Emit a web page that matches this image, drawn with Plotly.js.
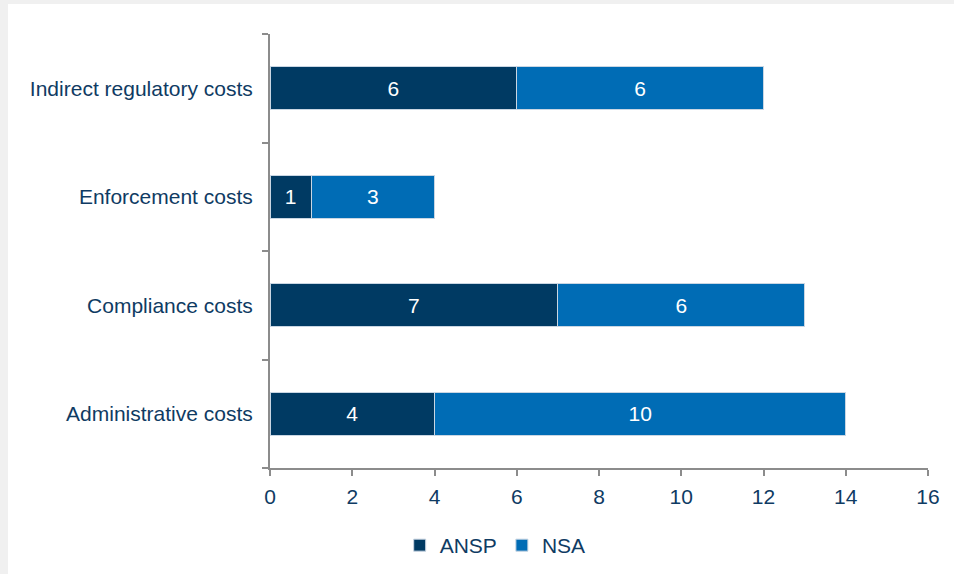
<!DOCTYPE html>
<html>
<head>
<meta charset="utf-8">
<script src="https://cdn.plot.ly/plotly-3.0.1.min.js"></script>
<style>
html,body{margin:0;padding:0;background:#f0f0f0;width:954px;height:574px;overflow:hidden;}
#chart{position:absolute;left:8px;top:4px;width:946px;height:570px;background:#fff;}
</style>
</head>
<body>
<div id="chart"></div>
<script>
const categories = ["Administrative costs", "Compliance costs", "Enforcement costs", "Indirect regulatory costs"];
const ansp = [4, 7, 1, 6];
const nsa = [10, 6, 3, 6];
const xTicks = [0, 2, 4, 6, 8, 10, 12, 14, 16];

const txt = '#0f3b63';
const font = {family: 'Liberation Sans, Arial, sans-serif', size: 21, color: txt};

const traces = [
  {type: 'bar', orientation: 'h', name: 'ANSP', y: categories, x: ansp,
   marker: {color: '#003a63', line: {color: '#c9d6e3', width: 1}},
   text: ansp.map(String), textposition: 'inside', insidetextanchor: 'middle',
   textfont: {family: font.family, size: 21, color: '#ffffff'}, hoverinfo: 'x+name'},
  {type: 'bar', orientation: 'h', name: 'NSA', y: categories, x: nsa,
   marker: {color: '#006cb5', line: {color: '#c9d6e3', width: 1}},
   text: nsa.map(String), textposition: 'inside', insidetextanchor: 'middle',
   textfont: {family: font.family, size: 21, color: '#ffffff'}, hoverinfo: 'x+name'}
];

const layout = {
  width: 946, height: 570,
  paper_bgcolor: '#ffffff', plot_bgcolor: '#ffffff',
  font: font,
  barmode: 'stack', bargap: 0.6,
  margin: {l: 262, r: 26, t: 30, b: 106},
  showlegend: true,
  legend: {orientation: 'h', xref: 'container', yref: 'container', x: 0.515, y: 0.05,
           xanchor: 'center', yanchor: 'middle', font: font, traceorder: 'normal',
           itemwidth: 30},
  xaxis: {range: [0, 16], tickvals: xTicks, ticktext: xTicks.map(String),
          showgrid: false, zeroline: false, showline: true, linecolor: '#8c8c8c', linewidth: 2,
          ticks: 'outside', ticklen: 6, tickcolor: '#8c8c8c', tickwidth: 2, tickfont: font,
          ticklabelstandoff: 3},
  yaxis: {type: 'category', showgrid: false, zeroline: false, showline: true,
          linecolor: '#8c8c8c', linewidth: 2, ticks: 'outside', tickson: 'boundaries',
          ticklen: 6, tickcolor: '#8c8c8c', tickwidth: 2, tickfont: font, ticklabelstandoff: 11}
};

Plotly.newPlot('chart', traces, layout, {displayModeBar: false, staticPlot: true});
</script>
</body>
</html>
